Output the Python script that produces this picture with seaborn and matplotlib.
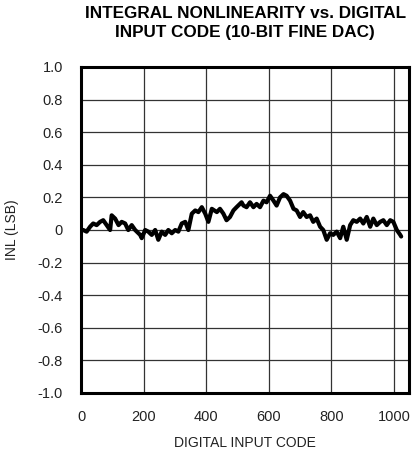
import numpy as np
import pandas as pd
import matplotlib
matplotlib.use("Agg")
import matplotlib.pyplot as plt
import seaborn as sns

codes = [0, 7, 18, 29, 39, 50, 61, 71, 82, 93, 98, 109, 120, 130, 141, 151, 162, 173,
         189, 194, 205, 215, 226, 237, 247, 258, 269, 279, 290, 301, 311, 322, 333, 343,
         354, 365, 375, 386, 397, 407, 418, 434, 444, 455, 465, 476, 487, 497, 513, 519,
         529, 540, 551, 561, 572, 583, 593, 604, 615, 625, 636, 647, 657, 668, 679, 689,
         700, 710, 721, 732, 742, 753, 764, 774, 785, 796, 806, 817, 828, 838, 849, 860,
         870, 881, 892, 902, 913, 924, 934, 945, 956, 966, 977, 988, 998, 1009, 1020, 1023]
inl = [0.0, 0.0, -0.01, 0.02, 0.04, 0.03, 0.05, 0.06, 0.03, 0.0, 0.09, 0.07, 0.03, 0.05,
       0.04, 0.0, 0.03, 0.0, -0.03, -0.05, 0.0, -0.01, -0.03, 0.0, -0.06, -0.01, -0.03, 0.0,
       -0.02, 0.0, -0.01, 0.04, 0.05, 0.0, 0.10, 0.12, 0.11, 0.14, 0.10, 0.05, 0.13, 0.11,
       0.13, 0.10, 0.06, 0.08, 0.12, 0.14, 0.17, 0.15, 0.14, 0.17, 0.14, 0.16, 0.14, 0.18,
       0.17, 0.21, 0.18, 0.15, 0.20, 0.22, 0.21, 0.18, 0.13, 0.12, 0.08, 0.11, 0.08, 0.09,
       0.05, 0.07, 0.02, 0.0, -0.06, -0.02, -0.03, -0.01, -0.05, 0.02, -0.06, 0.03, 0.06,
       0.05, 0.07, 0.04, 0.08, 0.02, 0.07, 0.03, 0.05, 0.06, 0.03, 0.06, 0.05, 0.0, -0.03, -0.04]

x_ticks = [0, 200, 400, 600, 800, 1000]
y_ticks = [-1.0, -0.8, -0.6, -0.4, -0.2, 0, 0.2, 0.4, 0.6, 0.8, 1.0]
y_tick_labels = ["-1.0", "-0.8", "-0.6", "-0.4", "-0.2", "0", "0.2", "0.4", "0.6", "0.8", "1.0"]

df = pd.DataFrame({"code": codes, "inl": inl})

sns.set_theme(style="white")
fam = ["Liberation Sans", "DejaVu Sans"]
plt.rcParams["font.family"] = fam

fig = plt.figure(figsize=(4.13, 4.54), dpi=100)
ax = fig.add_axes([81/413, 1 - 393/454, (409 - 81)/413, (393 - 67)/454])

sns.lineplot(data=df, x="code", y="inl", ax=ax, color="black", linewidth=3.0)

ax.set_xlim(0, 1048)
ax.set_ylim(-1.0, 1.0)
ax.set_xticks(x_ticks)
ax.set_xticklabels([str(t) for t in x_ticks], fontsize=10.5, color="#222222")
ax.set_yticks(y_ticks)
ax.set_yticklabels(y_tick_labels, fontsize=10.5, color="#222222")
ax.tick_params(axis="x", length=0, pad=12)
ax.tick_params(axis="y", length=0, pad=13)
ax.grid(True, color="#333333", linewidth=0.9)
for s in ax.spines.values():
    s.set_visible(True)
    s.set_color("black")
    s.set_linewidth(2.2)

ax.set_xlabel("DIGITAL INPUT CODE", fontsize=10, color="#222222")
ax.xaxis.set_label_coords(0.5, -0.132)
ax.set_ylabel("INL (LSB)", fontsize=10, color="#222222")
ax.yaxis.set_label_coords(-0.19, 0.5)
fig.text(0.594, 0.986, "INTEGRAL NONLINEARITY vs. DIGITAL\nINPUT CODE (10-BIT FINE DAC)",
         ha="center", va="top", fontsize=12.3, fontweight="bold", linespacing=1.3,
         color="black")

fig.savefig("out.png", dpi=100)
